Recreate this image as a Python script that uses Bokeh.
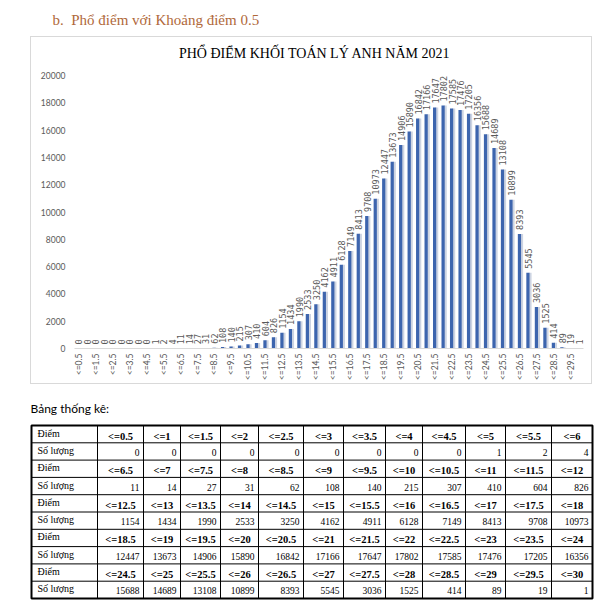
import math
from bokeh.plotting import figure
from bokeh.models import Range1d, FixedTicker, ColumnDataSource
from bokeh.layouts import column
from bokeh.transform import dodge
from bokeh.core.properties import value
from bokeh.embed import file_html
from bokeh.resources import INLINE

# ---------------- data ----------------
heading = "b.\u00a0\u00a0Phổ điểm với Khoảng điểm 0.5"
chart_title = "PHỔ ĐIỂM KHỐI TOÁN LÝ ANH  NĂM 2021"
table_caption = "Bảng thống kê:"
row_label_score = "Điểm"
row_label_count = "Số lượng"

score_bins = [
    "<=0.5", "<=1", "<=1.5", "<=2", "<=2.5", "<=3", "<=3.5", "<=4", "<=4.5", "<=5", "<=5.5", "<=6",
    "<=6.5", "<=7", "<=7.5", "<=8", "<=8.5", "<=9", "<=9.5", "<=10", "<=10.5", "<=11", "<=11.5", "<=12",
    "<=12.5", "<=13", "<=13.5", "<=14", "<=14.5", "<=15", "<=15.5", "<=16", "<=16.5", "<=17", "<=17.5", "<=18",
    "<=18.5", "<=19", "<=19.5", "<=20", "<=20.5", "<=21", "<=21.5", "<=22", "<=22.5", "<=23", "<=23.5", "<=24",
    "<=24.5", "<=25", "<=25.5", "<=26", "<=26.5", "<=27", "<=27.5", "<=28", "<=28.5", "<=29", "<=29.5", "<=30",
]
counts = [
    0, 0, 0, 0, 0, 0, 0, 0, 0, 1, 2, 4,
    11, 14, 27, 31, 62, 108, 140, 215, 307, 410, 604, 826,
    1154, 1434, 1990, 2533, 3250, 4162, 4911, 6128, 7149, 8413, 9708, 10973,
    12447, 13673, 14906, 15890, 16842, 17166, 17647, 17802, 17585, 17476, 17205, 16356,
    15688, 14689, 13108, 10899, 8393, 5545, 3036, 1525, 414, 89, 19, 1,
]
y_ticks = [0, 2000, 4000, 6000, 8000, 10000, 12000, 14000, 16000, 18000, 20000]

SERIF = "Liberation Serif"

# ---------------- heading strip (picture coords) ----------------
h = figure(width=606, height=36, x_range=Range1d(0, 606), y_range=Range1d(36, 0),
           output_backend="svg", toolbar_location=None,
           x_axis_location=None, y_axis_location=None, frame_align=False,
           min_border_left=0, min_border_right=0, min_border_top=0, min_border_bottom=0)
h.grid.visible = False
h.outline_line_color = None
h.text(x=[52], y=[19], text=[heading], text_align="left", text_baseline="middle",
       text_font=value(SERIF), text_font_size=value("15px"), text_color="#B0683A")

# ---------------- chart ----------------
n = len(counts)
src = ColumnDataSource(dict(idx=list(range(n)), count=counts, label=[str(c) for c in counts]))

# frame: picture x 74..583, y 40..348 ; y=0 at 348, y=20000 at 75
y_top = 20000 * (348 - 40) / 273.0
p = figure(width=560, height=346, x_range=Range1d(-0.5, n - 0.5), y_range=Range1d(0, y_top),
           output_backend="svg", toolbar_location=None, frame_align=False,
           min_border_left=43, min_border_right=8, min_border_top=3, min_border_bottom=35,
           margin=(1, 0, 0, 31),
           styles={"outline": "1px solid #D9D9D9"})
p.outline_line_color = None
p.xgrid.visible = False
p.ygrid.visible = False
p.background_fill_color = "white"
p.border_fill_color = "white"

p.yaxis.ticker = FixedTicker(ticks=y_ticks)
p.yaxis.axis_line_color = None
p.yaxis.major_tick_line_color = None
p.yaxis.minor_tick_line_color = None
p.yaxis.major_tick_out = 0
p.yaxis.minor_tick_out = 0
p.yaxis.major_label_standoff = 9
p.yaxis.major_label_text_font = "Lato"
p.yaxis.major_label_text_font_size = "8.5px"
p.yaxis.major_label_text_color = "#595959"

shown = list(range(0, n, 2))
p.xaxis.ticker = FixedTicker(ticks=shown)
p.xaxis.major_label_overrides = {i: score_bins[i] for i in shown}
p.xaxis.major_label_orientation = math.pi / 2
p.xaxis.axis_line_color = "#D9D9D9"
p.xaxis.major_tick_line_color = None
p.xaxis.minor_tick_line_color = None
p.xaxis.major_tick_out = 0
p.xaxis.minor_tick_out = 0
p.xaxis.major_label_standoff = 5
p.xaxis.major_label_text_font = "Lato"
p.xaxis.major_label_text_font_size = "8.5px"
p.xaxis.major_label_text_color = "#595959"

# shadow then bar
p.vbar(x=dodge("idx", 0.2), top="count", width=0.36, source=src,
       fill_color="#CDD4E2", line_color=None)
p.vbar(x=dodge("idx", -0.05), top="count", width=0.38, source=src,
       fill_color="#3D65AE", line_color=None)
p.text(x="idx", y="count", text="label", source=src, angle=math.pi / 2,
       text_align="left", text_baseline="middle", y_offset=-4,
       text_font=value("DejaVu Sans Mono"), text_font_size=value("8.5px"),
       text_color="#595959")

# chart title inside the (extended) frame
title_x = (316 - 74) / 509.0 * n - 0.5
title_y = 20000 * (348 - 53) / 273.0
p.text(x=[title_x], y=[title_y], text=[chart_title], text_align="center", text_baseline="middle",
       text_font=value(SERIF), text_font_size=value("14px"), text_color="black")

# ---------------- table (picture coords) ----------------
col_edges = [31, 97, 143, 180, 220, 258, 303, 343, 385, 422, 465, 505, 551, 592]
top, row_h, nrows = 425.0, 17.3, 10
row_edges = [top + i * row_h for i in range(nrows + 1)]

t = figure(width=606, height=216, x_range=Range1d(0, 606), y_range=Range1d(600, 384),
           output_backend="svg", toolbar_location=None,
           x_axis_location=None, y_axis_location=None, frame_align=False,
           min_border_left=0, min_border_right=0, min_border_top=0, min_border_bottom=0,
           margin=(1, 0, 0, 0))
t.grid.visible = False
t.outline_line_color = None

t.text(x=[30], y=[408], text=[table_caption], text_align="left", text_baseline="middle",
       text_font=value("Lato"), text_font_size=value("12px"), text_color="black")

t.segment(x0=[col_edges[0]] * (nrows - 1), x1=[col_edges[-1]] * (nrows - 1),
          y0=row_edges[1:-1], y1=row_edges[1:-1], line_color="black", line_width=1)
t.segment(x0=col_edges[1:-1], x1=col_edges[1:-1],
          y0=[row_edges[0]] * (len(col_edges) - 2), y1=[row_edges[-1]] * (len(col_edges) - 2),
          line_color="black", line_width=1)
t.quad(left=col_edges[0], right=col_edges[-1], top=row_edges[0], bottom=row_edges[-1],
       fill_color=None, line_color="black", line_width=2)

ncol = 12
lab_x, lab_y, lab_t = [], [], []
hx, hy, ht = [], [], []
vx, vy, vt = [], [], []
for b in range(len(counts) // ncol):
    r0 = 2 * b
    c_head = (row_edges[r0] + row_edges[r0 + 1]) / 2
    c_val = (row_edges[r0 + 1] + row_edges[r0 + 2]) / 2
    lab_x += [37, 37]
    lab_y += [c_head - 1, c_val - 1]
    lab_t += [row_label_score, row_label_count]
    for j in range(ncol):
        k = b * ncol + j
        hx.append((col_edges[j + 1] + col_edges[j + 2]) / 2)
        hy.append(c_head + 2)
        ht.append(score_bins[k])
        vx.append(col_edges[j + 2] - 4)
        vy.append(c_val + 1)
        vt.append(str(counts[k]))

t.text(x=lab_x, y=lab_y, text=lab_t, text_align="left", text_baseline="middle",
       text_font=value(SERIF), text_font_size=value("10px"), text_color="black")
t.text(x=hx, y=hy, text=ht, text_align="center", text_baseline="middle",
       text_font=value(SERIF), text_font_size=value("10.5px"),
       text_font_style="bold", text_color="black")
t.text(x=vx, y=vy, text=vt, text_align="right", text_baseline="middle",
       text_font=value(SERIF), text_font_size=value("9.5px"), text_color="black")

layout = column(h, p, t, spacing=0)
open("out.html", "w").write(file_html(layout, INLINE))
